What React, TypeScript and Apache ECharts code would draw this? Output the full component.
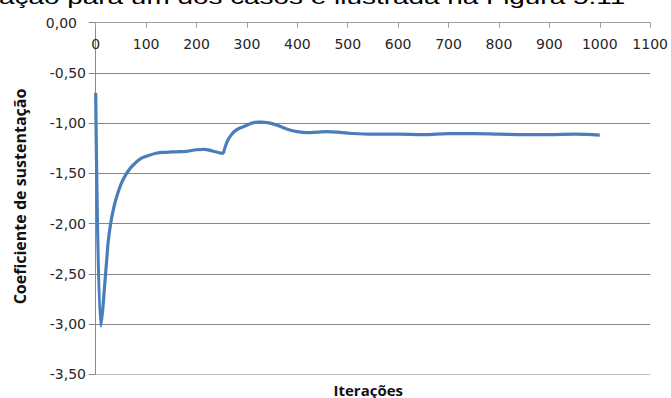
import React, { useEffect, useRef } from "react";
import * as echarts from "echarts";

const iterations = [
  0, 10, 14, 18, 22, 25, 30, 35, 40, 50, 60, 70, 80, 90, 100, 120, 140, 160,
  180, 200, 215, 230, 245, 252, 256, 262, 270, 280, 290, 300, 310, 320, 330,
  340, 350, 365, 380, 400, 420, 440, 460, 480, 500, 550, 600, 650, 700, 750,
  800, 850, 900, 950, 1000,
];
const liftCoefficient = [
  -0.7, -3.02, -2.85, -2.6, -2.35, -2.17, -1.99, -1.86, -1.76, -1.61, -1.51,
  -1.44, -1.39, -1.35, -1.33, -1.3, -1.29, -1.285, -1.28, -1.265, -1.26,
  -1.275, -1.295, -1.3, -1.25, -1.17, -1.11, -1.065, -1.04, -1.02, -1.0,
  -0.99, -0.99, -0.995, -1.005, -1.03, -1.06, -1.085, -1.095, -1.09, -1.085,
  -1.09, -1.1, -1.11, -1.11, -1.115, -1.105, -1.105, -1.11, -1.115, -1.115,
  -1.11, -1.12,
];
const yTitle = "Coeficiente de sustentação";
const xTitle = "Iterações";
const captionText = "ação para um dos casos é ilustrada na Figura 5.11";

export default function App() {
  const ref = useRef<HTMLDivElement>(null);
  useEffect(() => {
    if (!ref.current) return;
    const chart = echarts.init(ref.current, null, { renderer: "svg" });
    const data = iterations.map((x, i) => [x, liftCoefficient[i]]);
    const labelColor = "#262626";
    chart.setOption({
      animation: false,
      grid: { left: 95.7, right: 19.3, top: 22.7, bottom: 23.7 },
      xAxis: {
        type: "value",
        position: "top",
        min: 0,
        max: 1100,
        interval: 100,
        axisLine: { show: true, onZero: false, lineStyle: { color: "#a0a0a0" } },
        axisTick: { show: true, inside: true, length: 5, lineStyle: { color: "#a0a0a0" } },
        axisLabel: {
          inside: true,
          margin: 21.6,
          verticalAlign: "middle",
          fontFamily: "DejaVu Sans",
          fontSize: 14,
          color: labelColor,
          formatter: (v: number) => String(v),
        },
        splitLine: { show: false },
      },
      yAxis: {
        type: "value",
        min: -3.5,
        max: 0,
        interval: 0.5,
        axisLine: { show: true, lineStyle: { color: "#888" } },
        axisTick: { show: true, length: 7, lineStyle: { color: "#888" } },
        axisLabel: {
          margin: 9.7,
          fontFamily: "DejaVu Sans",
          fontSize: 14,
          color: labelColor,
          formatter: (v: number) => {
            const s = v.toFixed(2).replace(".", ",");
            return v === 0 ? "{z|" + s + "}" : s;
          },
          rich: {
            z: {
              fontFamily: "DejaVu Sans",
              fontSize: 14,
              color: labelColor,
              padding: [0, 9, 0, 0],
            },
          },
        },
        splitLine: {
          lineStyle: {
            color: ["#c0c0c0", "#878787", "#878787", "#878787", "#878787", "#878787", "#878787", "#a0a0a0"],
          },
        },
      },
      series: [
        {
          type: "line",
          data,
          showSymbol: false,
          smooth: 0.4,
          lineStyle: { width: 3.2, color: "#4a7ebb" },
        },
      ],
      graphic: [
        {
          type: "text",
          x: -1,
          y: -3.5,
          scaleX: 1.33,
          style: {
            text: captionText,
            font: '21px "Liberation Sans"',
            fill: "#000",
            align: "left",
            verticalAlign: "middle",
          },
        },
        {
          type: "text",
          x: 19.5,
          y: 196.5,
          rotation: Math.PI / 2,
          style: {
            text: yTitle,
            font: 'bold 16px "Open Sans"',
            fill: "#111",
            align: "center",
            verticalAlign: "middle",
          },
        },
        {
          type: "text",
          x: 368.3,
          y: 389.5,
          style: {
            text: xTitle,
            font: 'bold 15px "Open Sans"',
            fill: "#111",
            align: "center",
            verticalAlign: "middle",
          },
        },
      ],
    });
    return () => chart.dispose();
  }, []);
  return <div ref={ref} style={{ width: 671, height: 398, position: "absolute", left: 0, top: 0 }} />;
}
